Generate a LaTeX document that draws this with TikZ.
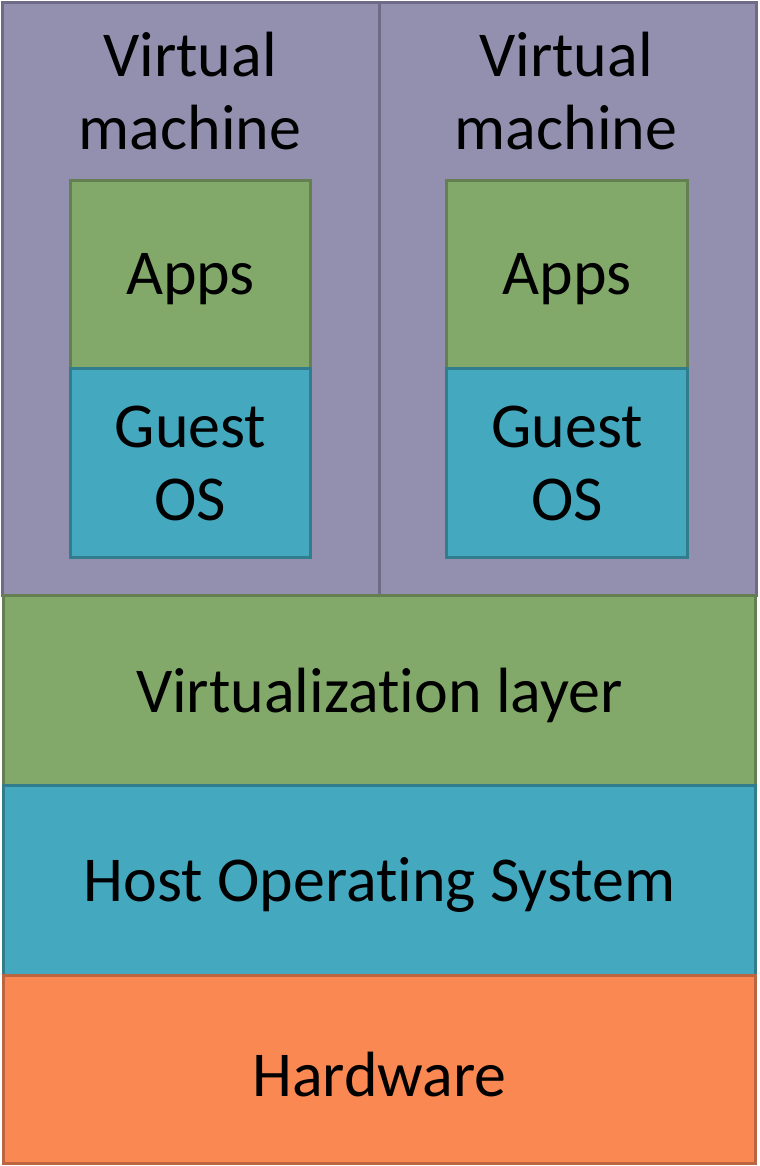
\documentclass[tikz,border=0pt]{standalone}
\usepackage{fontspec}
\setmainfont{Carlito}[Ligatures=NoCommon]
\usetikzlibrary{positioning}
\definecolor{vmfill}{HTML}{938FAF}
\definecolor{vmline}{HTML}{6F6A86}
\definecolor{grfill}{HTML}{82A96A}
\definecolor{grline}{HTML}{647F52}
\definecolor{tlfill}{HTML}{44A8BF}
\definecolor{tlline}{HTML}{317D8E}
\definecolor{hwfill}{HTML}{FA8853}
\definecolor{hwline}{HTML}{BB6640}
\newcommand{\lowtext}[1]{\raisebox{-2.4pt}[\height][\depth]{#1}}
\tikzstyle{layer} = [rectangle, line width=1.7pt, inner sep=0pt, outer sep=0pt, align=center, font=\fontsize{36.4}{42}\selectfont]
\tikzstyle{vm} = [layer, draw=vmline, fill=vmfill, minimum width=7.54cm, minimum height=11.88cm]
\tikzstyle{apps} = [layer, draw=grline, fill=grfill, minimum width=4.82cm, minimum height=3.78cm]
\tikzstyle{guest} = [layer, draw=tlline, fill=tlfill, minimum width=4.82cm, minimum height=3.78cm]

\begin{document}
\begin{tikzpicture}[x=0.02cm, y=-0.02cm]
	\useasboundingbox (0,0) rectangle (760,1166);
	\node[vm] (vmA) at (191,299) {};
	\node[vm, right=0pt of vmA] (vmB) {};
	\node[layer] (vmAtext) at (190,91) {Virtual\\machine};
	\node[layer] (vmBtext) at (566,91) {Virtual\\machine};
	\node[apps] (appsA) at (190.5,274.5) {\lowtext{Apps}};
	\node[guest, below=0pt of appsA] (osA) {Guest\\OS};
	\node[apps] (appsB) at (567,274.5) {\lowtext{Apps}};
	\node[guest, below=0pt of appsB] (osB) {Guest\\OS};
	\node[layer, draw=grline, fill=grfill, minimum width=15.06cm, minimum height=3.8cm, below=0pt of vmA.south east] (virt) {\lowtext{Virtualization layer}};
	\node[layer, draw=tlline, fill=tlfill, minimum width=15.06cm, minimum height=3.8cm, below=0pt of virt] (host) {\lowtext{Host Operating System}};
	\node[layer, draw=hwline, fill=hwfill, minimum width=15.06cm, minimum height=3.76cm, below=0pt of host] (hw) {\lowtext{Hardware}};
\end{tikzpicture}
\end{document}
